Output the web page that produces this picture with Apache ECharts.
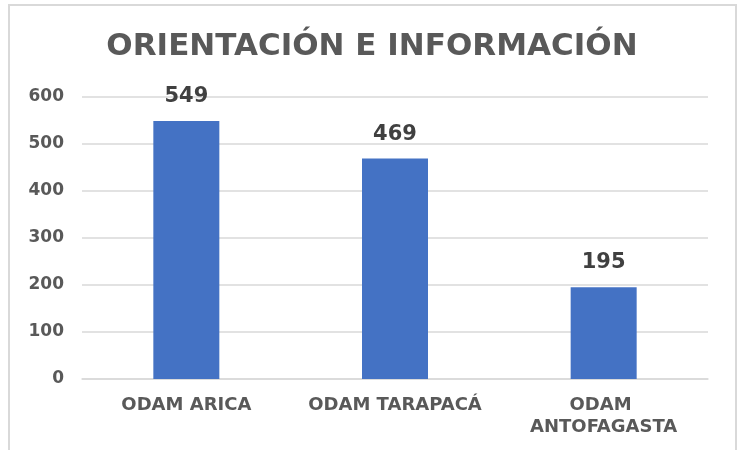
<!DOCTYPE html>
<html>
<head>
<meta charset="utf-8">
<script src="https://cdn.jsdelivr.net/npm/echarts@6/dist/echarts.min.js"></script>
<style>html,body{margin:0;padding:0;background:#fff;}#c{width:744px;height:450px;}</style>
</head>
<body>
<div id="c"></div>
<script>
const titleText = 'ORIENTACIÓN E INFORMACIÓN';
const categories = ['ODAM ARICA', 'ODAM TARAPACÁ', 'ODAM ANTOFAGASTA'];
const values = [549, 469, 195];
const yTicks = [0, 100, 200, 300, 400, 500, 600];

const FONT = '"DejaVu Sans", sans-serif';
const chart = echarts.init(document.getElementById('c'), null, {renderer: 'canvas'});
chart.setOption({
  animation: false,
  backgroundColor: '#ffffff',
  graphic: [{
    type: 'rect', silent: true, z: -1,
    shape: {x: 9, y: 5, width: 727, height: 460},
    style: {fill: 'none', stroke: '#D9D9D9', lineWidth: 2}
  }],
  title: {
    text: titleText,
    left: 'center',
    top: 26,
    textStyle: {fontFamily: FONT, fontWeight: 'bold', fontSize: 31, color: '#595959'}
  },
  grid: {left: 82, right: 36, top: 97, bottom: 71, containLabel: false},
  xAxis: {
    type: 'category',
    data: categories,
    axisTick: {show: false},
    axisLine: {lineStyle: {color: '#D9D9D9', width: 1.5}},
    axisLabel: {
      fontFamily: FONT, fontWeight: 'bold', fontSize: 18, color: '#595959',
      margin: 15, lineHeight: 22, width: 190, overflow: 'break', interval: 0
    }
  },
  yAxis: {
    type: 'value',
    min: yTicks[0],
    max: yTicks[yTicks.length - 1],
    interval: yTicks[1] - yTicks[0],
    axisLine: {show: false},
    axisTick: {show: false},
    splitLine: {lineStyle: {color: '#D9D9D9', width: 1.5}},
    axisLabel: {fontFamily: FONT, fontWeight: 'bold', fontSize: 17, color: '#595959', margin: 18}
  },
  series: [{
    type: 'bar',
    data: values,
    barWidth: 66,
    itemStyle: {color: '#4472C4'},
    label: {
      show: true, position: 'top', distance: 14,
      fontFamily: FONT, fontWeight: 'bold', fontSize: 21, color: '#404040'
    }
  }]
});
</script>
</body>
</html>
